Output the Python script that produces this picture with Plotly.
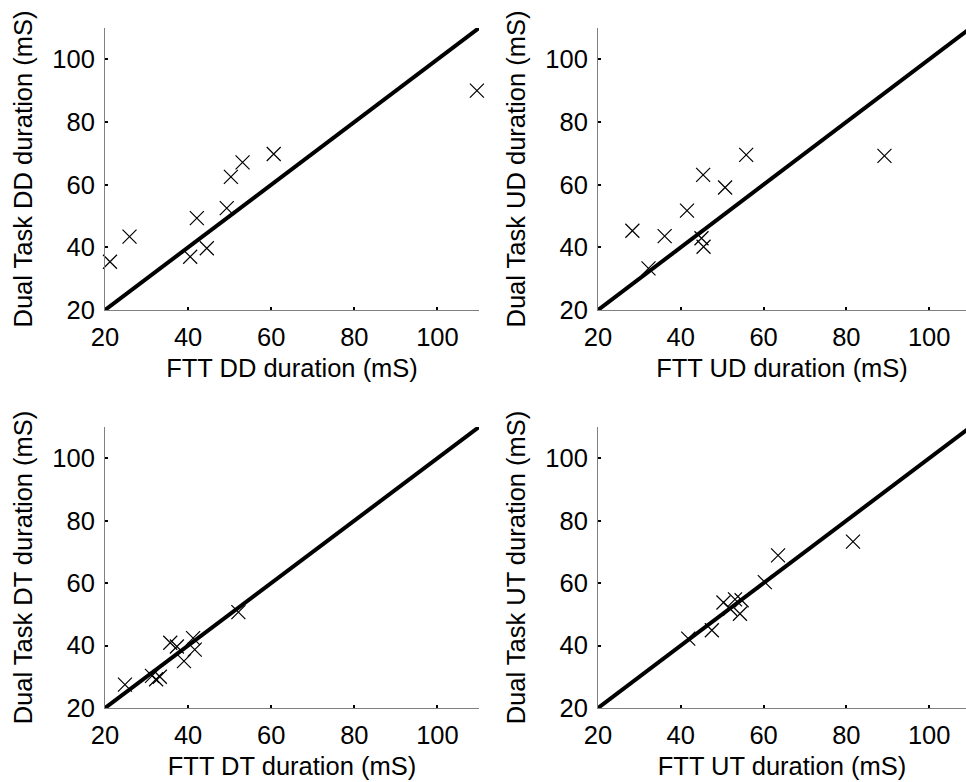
import plotly.graph_objects as go

# ---- data ----
dd_ftt = [21.2, 25.9, 40.5, 42.1, 44.5, 49.3, 50.3, 53.1, 60.6, 109.5]
dd_dual = [35.4, 43.4, 37.0, 49.3, 39.7, 52.5, 62.5, 67.1, 69.8, 90.0]

ud_ftt = [28.3, 32.2, 36.1, 41.5, 45.4, 45.0, 45.5, 50.7, 55.8, 89.2]
ud_dual = [45.3, 33.3, 43.6, 51.7, 63.1, 42.9, 40.2, 59.1, 69.5, 69.2]

dt_ftt = [24.8, 31.3, 32.3, 33.2, 35.7, 37.3, 39.0, 41.2, 41.6, 52.1]
dt_dual = [27.5, 30.3, 29.2, 30.0, 40.9, 39.7, 35.0, 42.4, 38.7, 50.7]

ut_ftt = [41.8, 47.5, 50.3, 51.9, 53.1, 54.3, 54.7, 60.3, 63.5, 81.6]
ut_dual = [42.2, 44.9, 53.8, 51.8, 54.8, 50.2, 54.5, 60.3, 68.9, 73.3]

identity = [20, 110]
tick_vals = [20, 40, 60, 80, 100, 110]
tick_text = ["20", "40", "60", "80", "100", ""]

panels = [
    ("DD", dd_ftt, dd_dual),
    ("UD", ud_ftt, ud_dual),
    ("DT", dt_ftt, dt_dual),
    ("UT", ut_ftt, ut_dual),
]

W, H = 966, 782
xdoms = [[105 / W, 479 / W], [598 / W, 1.0]]
xranges = [[20, 110], [20, 108.9]]
ydoms = [[1 - 310 / H, 1 - 28 / H], [1 - 708 / H, 1 - 427 / H]]

FONT = "Liberation Sans, Arial, sans-serif"
FS = 25.5
fig = go.Figure()
layout = {}
for i, (name, xs, ys) in enumerate(panels):
    r, c = divmod(i, 2)
    n = "" if i == 0 else str(i + 1)
    xa, ya = "x" + n, "y" + n
    fig.add_trace(go.Scatter(
        x=identity, y=identity, mode="lines",
        line=dict(color="black", width=4),
        xaxis=xa, yaxis=ya, showlegend=False, hoverinfo="skip"))
    fig.add_trace(go.Scatter(
        x=xs, y=ys, mode="markers",
        marker=dict(symbol="x-thin-open", size=14, color="black",
                    line=dict(color="black", width=1.2)),
        xaxis=xa, yaxis=ya, showlegend=False, cliponaxis=False))
    common = dict(
        showline=True, linecolor="#808080", linewidth=1,
        showgrid=False, zeroline=False,
        ticks="inside", ticklen=3, tickwidth=2, tickcolor="black",
        tickvals=tick_vals, ticktext=tick_text,
        tickfont=dict(family=FONT, size=FS, color="black"),
        automargin=False, fixedrange=True,
    )
    layout["xaxis" + n] = dict(
        common, domain=xdoms[c], range=xranges[c], anchor=ya,
        ticklabelstandoff=4,
        title=dict(text=f"FTT {name} duration (mS)",
                   font=dict(family=FONT, size=FS, color="black"),
                   standoff=9),
    )
    layout["yaxis" + n] = dict(
        common, domain=ydoms[r], range=[20, 110], anchor=xa,
        ticklabelstandoff=4,
        title=dict(text=f"Dual Task {name} duration (mS)",
                   font=dict(family=FONT, size=FS, color="black"),
                   standoff=12),
    )

fig.update_layout(
    width=W, height=H,
    margin=dict(l=0, r=0, t=0, b=0),
    paper_bgcolor="white", plot_bgcolor="white",
    font=dict(family=FONT, size=FS, color="black"),
    **layout,
)
fig.write_html("out.html")
